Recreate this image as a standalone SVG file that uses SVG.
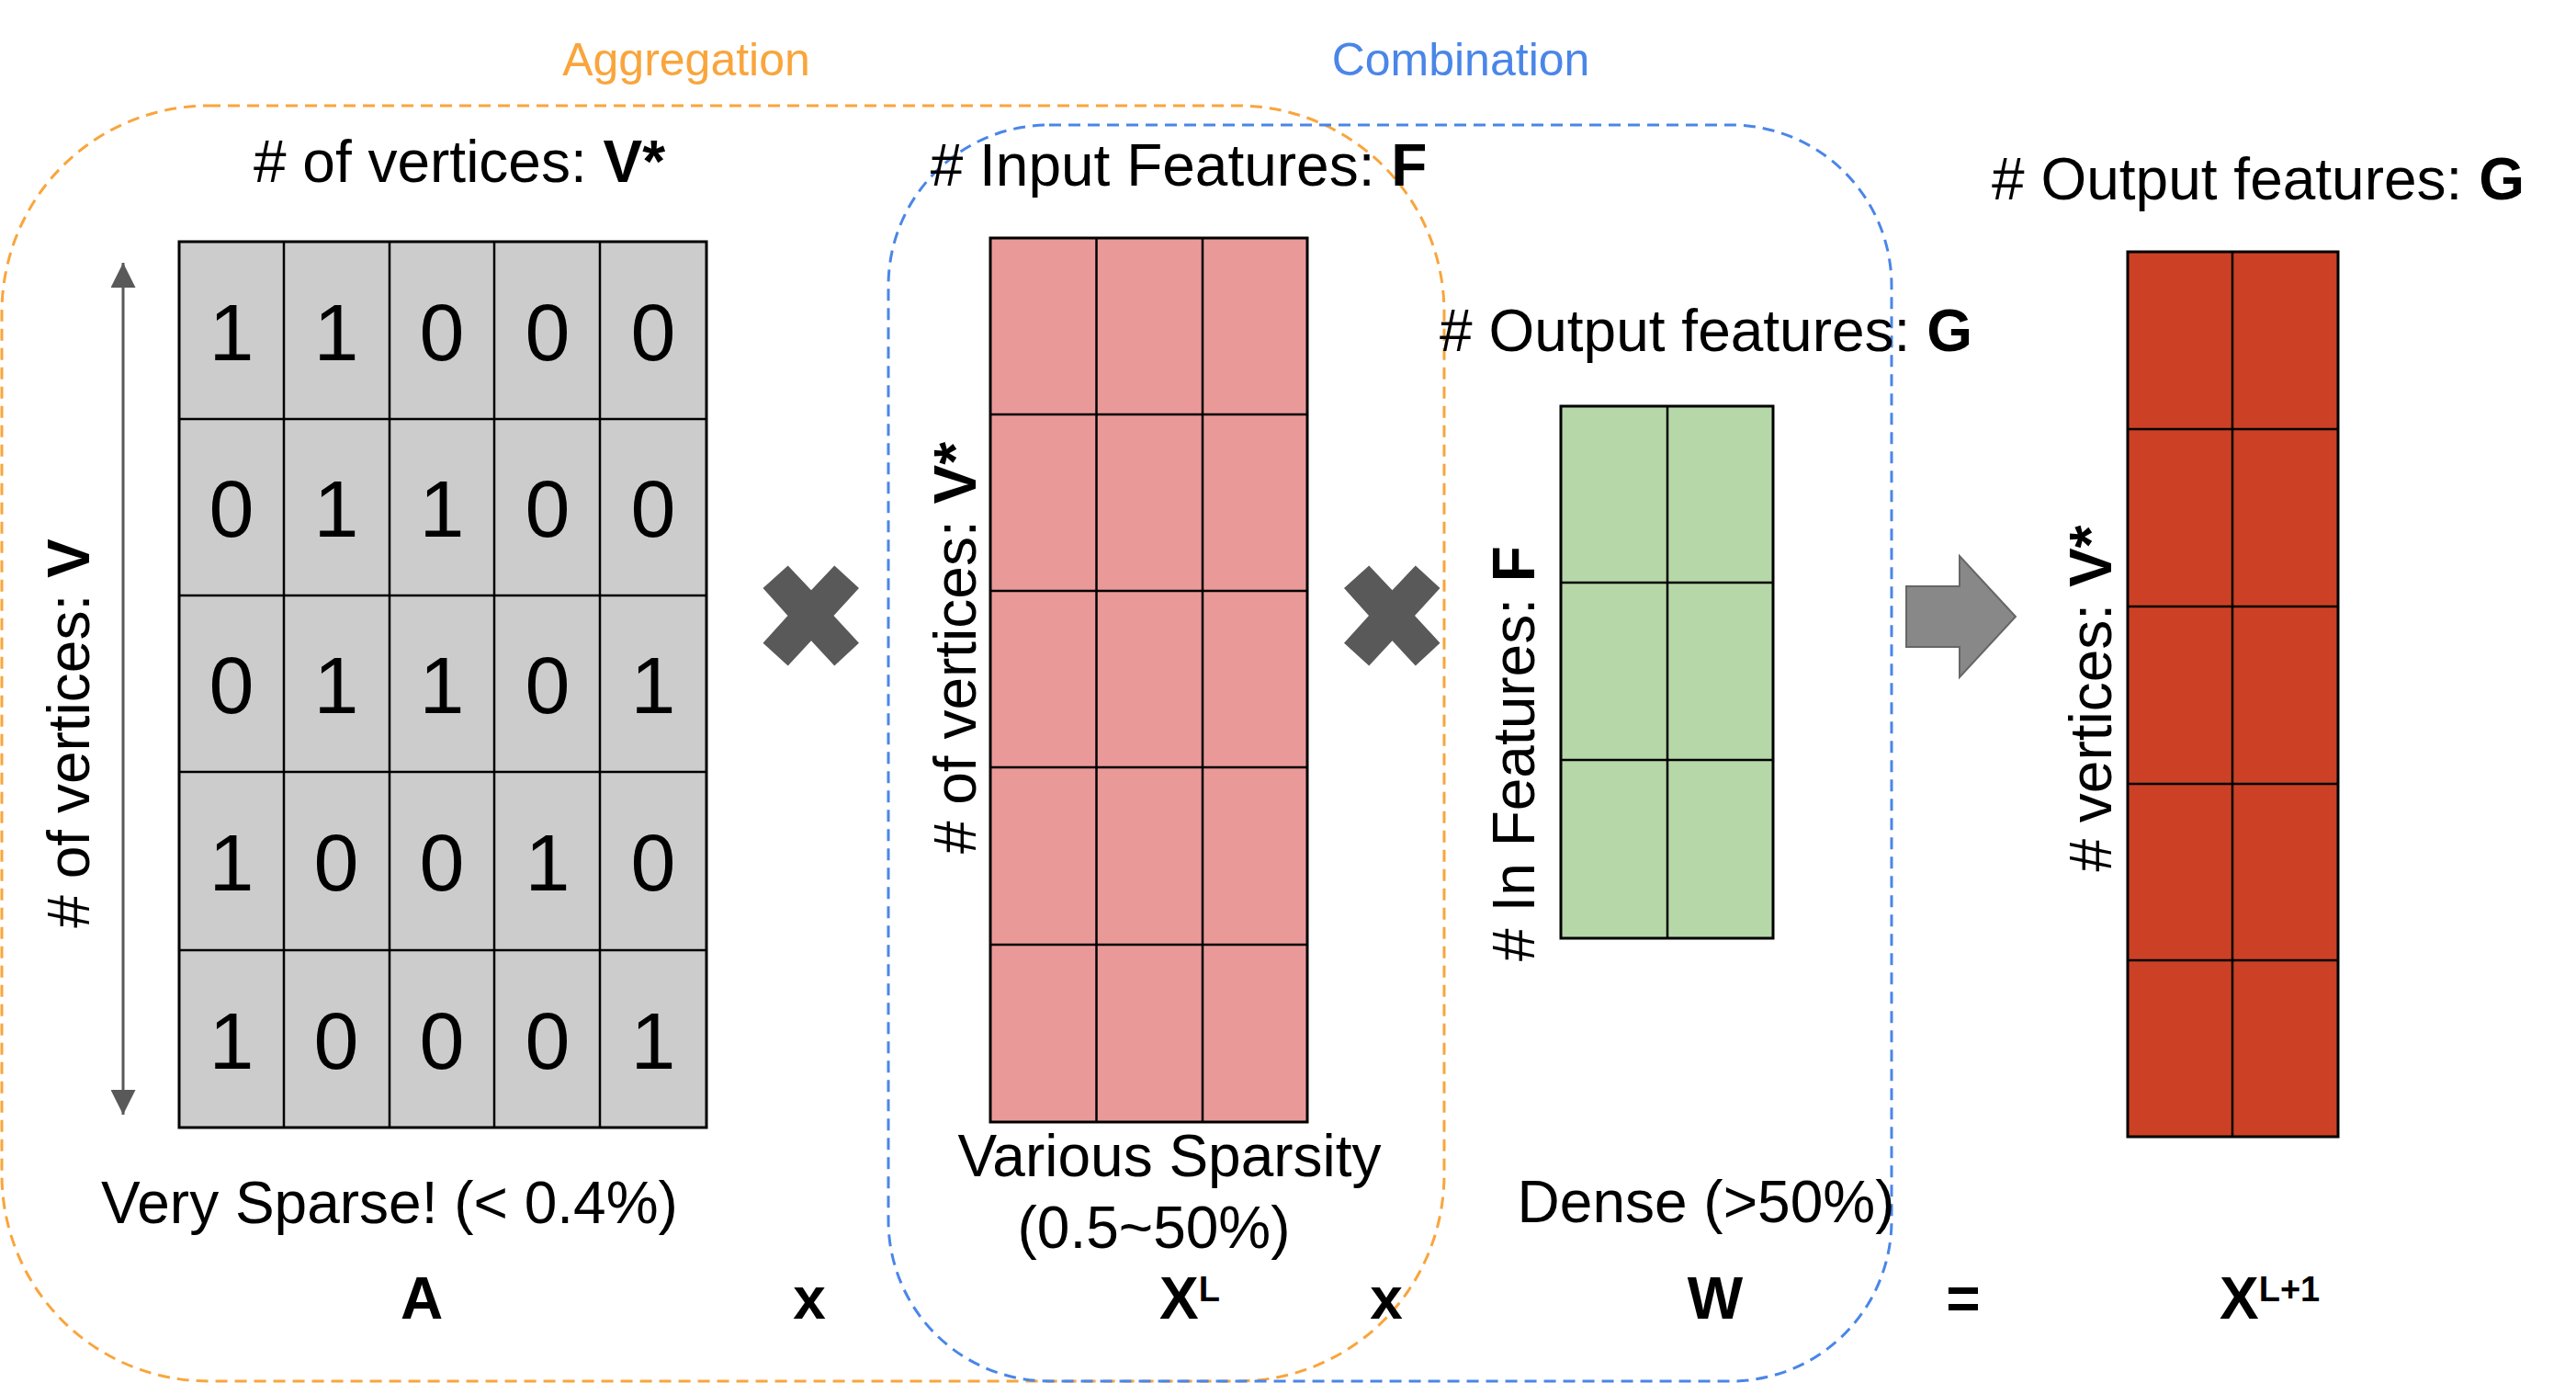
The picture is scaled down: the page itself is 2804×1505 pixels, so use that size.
<svg xmlns="http://www.w3.org/2000/svg" width="2804" height="1505" viewBox="0 0 2804 1505">
<style>
text{font-family:"Liberation Sans",Arial,sans-serif;fill:#000}
.t{font-size:64px}
.num{font-size:88px;text-anchor:middle}
.b{font-weight:bold}
.sup{font-size:38px;font-weight:bold}
.grid{stroke:#000;stroke-width:3}
.gl{stroke:#000;stroke-width:2.5;fill:none}
.xm{fill:#595959}
</style>
<defs>
<marker id="ah" viewBox="0 0 10 10" refX="10" refY="5" markerWidth="27" markerHeight="27" markerUnits="userSpaceOnUse" orient="auto-start-reverse">
<path d="M0,0 L10,5 L0,10 Z" fill="#595959"/>
</marker>
<polygon id="times" points="-25.3,-54.5 0,-27.7 25.3,-54.5 52,-30 24.5,0 52,29.7 25.3,54.5 0,27.3 -25.3,54.5 -52.5,29.7 -25.5,0 -52.5,-30"/>
</defs>
<rect width="2804" height="1505" fill="#fff"/>

<g id="regions">
<rect id="aggregation-box" x="2" y="115" width="1570" height="1388" rx="225" ry="225" fill="none" stroke="#F9A53C" stroke-width="3" stroke-dasharray="13 8"/>
<rect id="combination-box" x="967" y="136" width="1092" height="1367" rx="175" ry="175" fill="none" stroke="#4A86E8" stroke-width="3" stroke-dasharray="13 8"/>
<text x="747" y="82" style="font-size:50px;fill:#F9A53C" text-anchor="middle">Aggregation</text>
<text x="1590" y="82" style="font-size:50px;fill:#4A86E8" text-anchor="middle">Combination</text>
</g>

<g id="connectors">
<line x1="134" y1="286" x2="134" y2="1213" stroke="#595959" stroke-width="3" marker-start="url(#ah)" marker-end="url(#ah)"/>
</g>

<g id="matrix-A">
<rect x="195" y="263" width="574" height="964" fill="#CCCCCC" class="grid"/>
<path class="gl" d="M309,263V1227M424,263V1227M538,263V1227M653,263V1227M195,456H769M195,648H769M195,840H769M195,1034H769"/>
<g class="num-cells">
<text class="num" x="252" y="392">1</text><text class="num" x="366" y="392">1</text><text class="num" x="481" y="392">0</text><text class="num" x="596" y="392">0</text><text class="num" x="711" y="392">0</text>
<text class="num" x="252" y="584">0</text><text class="num" x="366" y="584">1</text><text class="num" x="481" y="584">1</text><text class="num" x="596" y="584">0</text><text class="num" x="711" y="584">0</text>
<text class="num" x="252" y="776">0</text><text class="num" x="366" y="776">1</text><text class="num" x="481" y="776">1</text><text class="num" x="596" y="776">0</text><text class="num" x="711" y="776">1</text>
<text class="num" x="252" y="969">1</text><text class="num" x="366" y="969">0</text><text class="num" x="481" y="969">0</text><text class="num" x="596" y="969">1</text><text class="num" x="711" y="969">0</text>
<text class="num" x="252" y="1163">1</text><text class="num" x="366" y="1163">0</text><text class="num" x="481" y="1163">0</text><text class="num" x="596" y="1163">0</text><text class="num" x="711" y="1163">1</text>
</g>
<text class="t" x="500" y="198" text-anchor="middle"># of vertices: <tspan class="b">V*</tspan></text>
<text class="t" transform="translate(97,798) rotate(-90)" text-anchor="middle"># of vertices: <tspan class="b">V</tspan></text>
<text class="t" x="424" y="1331" text-anchor="middle">Very Sparse! (&lt; 0.4%)</text>
<text class="t b" x="459" y="1435" text-anchor="middle">A</text>
</g>

<g id="op-mult-1">
<use href="#times" class="xm" transform="translate(883,670)"/>
<text class="t b" x="881" y="1435" text-anchor="middle">x</text>
</g>

<g id="matrix-XL">
<rect x="1078" y="259" width="345" height="962" fill="#EA9999" class="grid"/>
<path class="gl" d="M1193.5,259V1221M1309,259V1221M1078,451H1423M1078,643H1423M1078,835H1423M1078,1028H1423"/>
<text class="t" x="1283" y="202" text-anchor="middle"># Input Features: <tspan class="b">F</tspan></text>
<text class="t" transform="translate(1062,705) rotate(-90)" text-anchor="middle"># of vertices: <tspan class="b">V*</tspan></text>
<text class="t" x="1273" y="1280" text-anchor="middle">Various Sparsity</text>
<text class="t" x="1256" y="1358" text-anchor="middle">(0.5~50%)</text>
<text class="t b" x="1262" y="1435">X<tspan class="sup" dy="-19">L</tspan></text>
</g>

<g id="op-mult-2">
<use href="#times" class="xm" transform="translate(1515.5,670)"/>
<text class="t b" x="1509" y="1435" text-anchor="middle">x</text>
</g>

<g id="matrix-W">
<rect x="1699" y="442" width="231" height="579" fill="#B6D7A8" class="grid"/>
<path class="gl" d="M1815,442V1021M1699,634H1930M1699,827H1930"/>
<text class="t" x="1857" y="382" text-anchor="middle"># Output features: <tspan class="b">G</tspan></text>
<text class="t" transform="translate(1670,820) rotate(-90)" text-anchor="middle"># In Features: <tspan class="b">F</tspan></text>
<text class="t" x="1857" y="1330" text-anchor="middle">Dense (&gt;50%)</text>
<text class="t b" x="1867" y="1435" text-anchor="middle">W</text>
</g>

<g id="op-equals">
<path d="M2075,638H2133V605L2194,671L2133,737V704H2075Z" fill="#888888" stroke="#666666" stroke-width="2"/>
<text class="t b" x="2137" y="1435" text-anchor="middle">=</text>
</g>

<g id="matrix-XL1">
<rect x="2316" y="274" width="229" height="963" fill="#CC4125" class="grid"/>
<path class="gl" d="M2430,274V1237M2316,467H2545M2316,660H2545M2316,853H2545M2316,1045H2545"/>
<text class="t" x="2458" y="217" text-anchor="middle"># Output features: <tspan class="b">G</tspan></text>
<text class="t" transform="translate(2298,760) rotate(-90)" text-anchor="middle"># vertices: <tspan class="b">V*</tspan></text>
<text class="t b" x="2416" y="1435">X<tspan class="sup" dy="-19">L+1</tspan></text>
</g>
</svg>
